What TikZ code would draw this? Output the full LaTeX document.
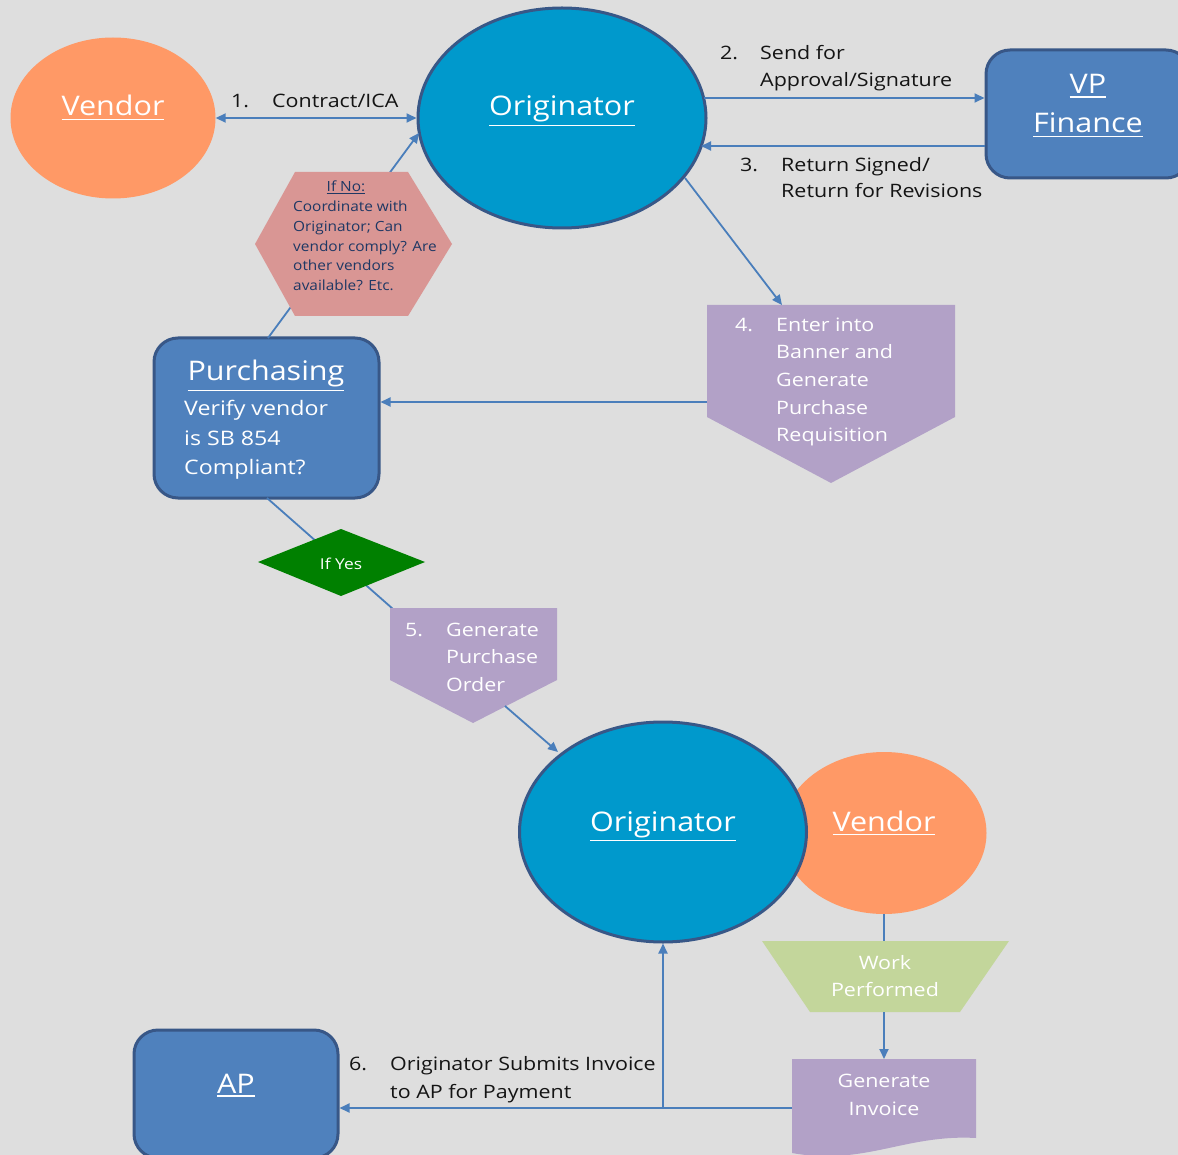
\documentclass[tikz,border=0pt]{standalone}
\usepackage{fontspec}
\setmainfont{Open Sans}[FakeStretch=1.16]
\newfontfamily\titfont{Open Sans}[FakeStretch=1.13]
\newfontfamily\hexfont{Open Sans}[FakeStretch=1.1]
\usetikzlibrary{shapes.geometric,arrows.meta}
\definecolor{bg}{RGB}{222,222,222}
\definecolor{orng}{RGB}{255,153,102}
\definecolor{oblue}{RGB}{0,153,204}
\definecolor{dblue}{RGB}{56,87,135}
\definecolor{mblue}{RGB}{79,129,189}
\definecolor{lav}{RGB}{178,161,199}
\definecolor{rose}{RGB}{217,150,148}
\definecolor{grn}{RGB}{0,128,0}
\definecolor{lgrn}{RGB}{195,214,155}
\definecolor{navy}{RGB}{31,56,100}
\definecolor{arr}{RGB}{74,126,187}
\definecolor{ink}{RGB}{20,20,20}
\newcommand\ulbig[1]{\leavevmode\vtop{\hbox{#1}\kern2.4pt\hrule height 1.6pt}}
\newcommand\ulsmall[1]{\leavevmode\vtop{\hbox{#1}\kern1.2pt\hrule height 0.9pt}}
\begin{document}
\begin{tikzpicture}[x=1pt,y=-1pt,
  tip/.tip={Triangle[length=10pt,width=9pt]},
  conn/.style={draw=arr,line width=1.8pt},
  arrowed/.style={conn,-tip},
  oval/.style={ellipse,inner sep=0pt},
  rbox/.style={rectangle,rounded corners=24pt,fill=mblue,draw=dblue,line width=3pt,inner sep=0pt},
  title/.style={text=white,font=\titfont\fontsize{27}{32}\selectfont,inner sep=0pt,anchor=base},
  lbl/.style={text=ink,font=\fontsize{18.5}{22}\selectfont,inner sep=0pt,anchor=base west},
  wtxt/.style={text=white,font=\fontsize{18.5}{22}\selectfont,inner sep=0pt,anchor=base west},
  wctr/.style={text=white,font=\fontsize{18.5}{22}\selectfont,inner sep=0pt,anchor=base},
  body/.style={text=white,font=\fontsize{20}{24}\selectfont,inner sep=0pt,anchor=base west},
  hext/.style={text=navy,font=\hexfont\fontsize{14}{17}\selectfont,inner sep=0pt,anchor=base west},
]
\fill[bg] (0,0) rectangle (1178,1155);
\useasboundingbox (0,0) rectangle (1178,1155);
\clip (0,0) rectangle (1178,1155);

% ---------- main shapes ----------
\node[oval,fill=orng,minimum width=205pt,minimum height=161pt] (vend1) at (113,118) {};
\node[oval,fill=oblue,draw=dblue,line width=3pt,minimum width=288pt,minimum height=220pt] (org1) at (562,118) {};
\node[rbox,minimum width=204pt,minimum height=128pt] (vp) at (1088,114) {};
\node[rbox,minimum width=225pt,minimum height=160pt] (purch) at (266.5,418) {};
\node[rbox,minimum width=204pt,minimum height=128pt] (ap) at (236,1094) {};
\node[oval,fill=orng,minimum width=205pt,minimum height=162pt] (vend2) at (884,833) {};
\node[oval,fill=oblue,draw=dblue,line width=3pt,minimum width=287pt,minimum height=220pt] (org2) at (663,832) {};

% ---------- connectors passing behind hexagon and diamond ----------
\coordinate (ptop) at (268,338);
\coordinate (orgsw) at (419,133);
\draw[arrowed] (ptop) -- (orgsw);
\coordinate (pbot) at (267,498);
\coordinate (p5nw) at (393,609);
\draw[conn] (pbot) -- (p5nw);

% ---------- hexagon ----------
\fill[rose] (255,244) -- (295,172) -- (408,172) -- (452,244) -- (408,316) -- (295,316) -- cycle;
% ---------- diamond ----------
\fill[grn] (258,562) -- (341,529) -- (425,562) -- (341,596) -- cycle;
% ---------- pentagon 4 ----------
\fill[lav] (707,305) -- (955,305) -- (955,417) -- (831,483) -- (707,417) -- cycle;
% ---------- pentagon 5 ----------
\fill[lav] (390,608) -- (557,608) -- (557,680) -- (473,723) -- (390,680) -- cycle;
% ---------- trapezoid ----------
\fill[lgrn] (762,941) -- (1009,941) -- (960,1012) -- (810,1012) -- cycle;
% ---------- document ----------
\fill[lav] (792,1059) -- (976,1059) -- (976,1138) .. controls (905,1134) and (865,1166) .. (792,1153) -- cycle;

% ---------- connectors ----------
\draw[conn,tip-tip] (vend1.east) -- (org1.west);
\coordinate (a2s) at (704,98);
\draw[arrowed] (a2s) -- (vp.west |- a2s);
\coordinate (a3e) at (701,146);
\draw[arrowed] (vp.west |- a3e) -- (a3e);
\coordinate (a4s) at (685,178);
\coordinate (p4n) at (782,305);
\draw[arrowed] (a4s) -- (p4n);
\coordinate (p4w) at (707,402);
\draw[arrowed] (p4w) -- (purch.east |- p4w);
\coordinate (p5se) at (505,706);
\coordinate (org2nw) at (558,752);
\draw[arrowed] (p5se) -- (org2nw);
\coordinate (v2s) at (884,914);
\coordinate (trn) at (884,941);
\draw[conn] (v2s) -- (trn);
\coordinate (trs) at (884,1012);
\coordinate (docn) at (884,1059);
\draw[arrowed] (trs) -- (docn);
\coordinate (docw) at (792,1108);
\draw[arrowed] (docw) -- (ap.east |- docw);
\coordinate (junc) at (663,1108);
\draw[arrowed] (junc) -- (org2.south);

% ---------- texts ----------
\node[title] (vend1t) at (113,116) {\ulbig{Vendor}};
\node[title] (org1t) at (562,116) {\ulbig{Originator}};
\node[title] (vpt1) at (1088,94) {\ulbig{VP}};
\node[title] (vpt2) at (1088,133) {\ulbig{Finance}};
\node[title] (purcht) at (266,381) {\ulbig{Purchasing}};
\node[body] (pb1) at (184,415) {Verify vendor};
\node[body] (pb2) at (184,445) {is SB 854};
\node[body] (pb3) at (184,474) {Compliant?};
\node[title] (org2t) at (663,831) {\ulbig{Originator}};
\node[title] (vend2t) at (884,831) {\ulbig{Vendor}};
\node[title] (apt) at (236,1093) {\ulbig{AP}};

\node[lbl] (l1n) at (231,108) {1.};
\node[lbl] (l1t) at (272,108) {Contract/ICA};
\node[lbl] (l2n) at (720,60) {2.};
\node[lbl] (l2a) at (760,60) {Send for};
\node[lbl] (l2b) at (760,87) {Approval/Signature};
\node[lbl] (l3n) at (740,172) {3.};
\node[lbl] (l3a) at (781,172) {Return Signed/};
\node[lbl] (l3b) at (781,198) {Return for Revisions};
\node[lbl] (l6n) at (349,1070) {6.};
\node[lbl] (l6a) at (390,1070) {Originator Submits Invoice};
\node[lbl] (l6b) at (390,1098) {to AP for Payment};

\node[wtxt] (p4n0) at (735,332) {4.};
\node[wtxt] (p4a) at (776,332) {Enter into};
\node[wtxt] (p4b) at (776,359) {Banner and};
\node[wtxt] (p4c) at (776,387) {Generate};
\node[wtxt] (p4d) at (776,414) {Purchase};
\node[wtxt] (p4e) at (776,442) {Requisition};

\node[wtxt] (p5n0) at (405,636) {5.};
\node[wtxt] (p5a) at (446,636) {Generate};
\node[wtxt] (p5b) at (446,663) {Purchase};
\node[wtxt] (p5c) at (446,691) {Order};

\node[wctr] (wk1) at (885,969) {Work};
\node[wctr] (wk2) at (885,996) {Performed};
\node[wctr] (gi1) at (884,1087) {Generate};
\node[wctr] (gi2) at (884,1115) {Invoice};

\node[text=white,font=\fontsize{15}{18}\selectfont,inner sep=0pt,anchor=base] (ify) at (341,569) {If Yes};

\node[hext,anchor=base] (hx0) at (346,192) {\ulsmall{If No:}};
\node[hext] (hx1) at (293,212) {Coordinate with};
\node[hext] (hx2) at (293,232) {Originator; Can};
\node[hext] (hx3) at (293,252) {vendor comply? Are};
\node[hext] (hx4) at (293,271) {other vendors};
\node[hext] (hx5) at (293,291) {available? Etc.};
\end{tikzpicture}
\end{document}
